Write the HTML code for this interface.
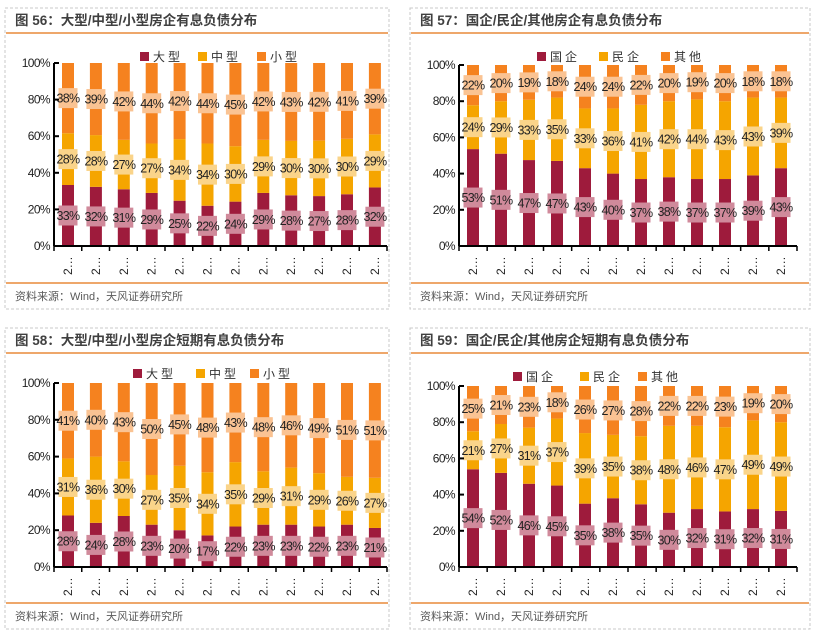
<!DOCTYPE html>
<html><head><meta charset="utf-8">
<style>
body{margin:0;background:#fff;width:815px;height:633px;overflow:hidden;font-family:"Liberation Sans","Noto Sans CJK SC",sans-serif}
svg{position:absolute;left:0;top:0}
</style></head>
<body>
<svg id="c" width="815" height="633" xmlns="http://www.w3.org/2000/svg"></svg>
<script>
const p56Big=[33,32,31,29,25,22,24,29,28,27,28,32];
const p56Mid=[28,28,27,27,34,34,30,29,30,30,30,29];
const p56Small=[38,39,42,44,42,44,45,42,43,42,41,39];
const p57Soe=[53,51,47,47,43,40,37,38,37,37,39,43];
const p57Private=[24,29,33,35,33,36,41,42,44,43,43,39];
const p57Other=[22,20,19,18,24,24,22,20,19,20,18,18];
const p58Big=[28,24,28,23,20,17,22,23,23,22,23,21];
const p58Mid=[31,36,30,27,35,34,35,29,31,29,26,27];
const p58Small=[41,40,43,50,45,48,43,48,46,49,51,51];
const p59Soe=[54,52,46,45,35,38,35,30,32,31,32,31];
const p59Private=[21,27,31,37,39,35,38,48,46,47,49,49];
const p59Other=[25,21,23,18,26,27,28,22,22,23,19,20];
const yTicks=["0%","20%","40%","60%","80%","100%"];
const sizeNames=["大型","中型","小型"];
const ownNames=["国企","民企","其他"];

const colors=["#9E1B3C","#F5A500","#F5821F"];
const tints=["#D08A9B","#FAD48A","#FAC393"];
const svg=document.getElementById('c');
const NS="http://www.w3.org/2000/svg";
function mk(tag,attrs,parent,text){const e=document.createElementNS(NS,tag);for(const k in attrs)e.setAttribute(k,attrs[k]);if(text!==undefined)e.textContent=text;(parent||svg).appendChild(e);return e;}

function panel(cfg){
  const g=mk('g',{});
  
  
  const fr=mk('rect',{x:cfg.bx,y:cfg.by,width:cfg.bw,height:cfg.bh,fill:'none',stroke:'#c8c8c8','stroke-dasharray':'3,2'},g);
  
  const t=mk('text',{x:cfg.bx+10,y:cfg.by+17,'font-size':'13.5','font-weight':'bold',fill:'#404040'},g,cfg.title);
  
  mk('line',{x1:cfg.bx+1,x2:cfg.bx+cfg.bw-1,y1:cfg.by+25,y2:cfg.by+25,stroke:'#E98A3A','stroke-width':1.5},g);
  mk('line',{x1:cfg.bx+1,x2:cfg.bx+cfg.bw-1,y1:cfg.by+cfg.bh-26,y2:cfg.by+cfg.bh-26,stroke:'#E98A3A','stroke-width':1.5},g);
  const s=mk('text',{x:cfg.bx+10,y:cfg.by+cfg.bh-9,'font-size':'11',fill:'#595959'},g,'资料来源：Wind，天风证券研究所');
  
  const y=v=>cfg.y0-(cfg.y0-cfg.y100)*v/100;
  const x=i=>cfg.x0+cfg.step*i;
  cfg.names.forEach((n,i)=>{
    const lx=cfg.lx[i];
    const le=mk('g',{},g);
    
    mk('rect',{x:lx,y:cfg.ly-5,width:9,height:9,fill:colors[i]},le);
    mk('text',{x:lx+13,y:cfg.ly+4,'font-size':'12',fill:'#333','letter-spacing':'3'},le,n);
  });
  const n=cfg.series[0].length;
  for(let i=0;i<n;i++){
    const tot=cfg.series.reduce((a,s)=>a+s[i],0);
    let acc=0;
    cfg.series.forEach((ser,k)=>{
      const v=ser[i]/tot*100;
      const yt=y(acc+v),yb=y(acc);
      const r=mk('rect',{x:x(i)-6,y:yt,width:12,height:yb-yt,fill:colors[k]},g);
      
      const cy=(yt+yb)/2;
      mk('rect',{x:x(i)-9.5,y:cy-10,width:19,height:20,fill:tints[k]},g);
      const lb=mk('text',{x:x(i),y:cy+4.5,'font-size':'12.5','text-anchor':'middle',fill:'#222','letter-spacing':'-0.7'},g,ser[i]+'%');
      
      acc+=v;
    });
    const xl=mk('text',{x:0,y:0,'font-size':'12',fill:'#222',transform:`translate(${x(i)+4},${cfg.y0+29}) rotate(-90)`},g,'2…');
    
  }
  const ya=mk('line',{x1:cfg.ax,x2:cfg.ax,y1:cfg.y100,y2:cfg.y0,stroke:'#000','stroke-width':2},g);
  
  yTicks.forEach((tk,j)=>{
    const yy=y(j*20);
    mk('line',{x1:cfg.ax,x2:cfg.ax+5,y1:yy,y2:yy,stroke:'#000','stroke-width':2},g);
    const tl=mk('text',{x:cfg.ax-4,y:yy+4,'font-size':'12','text-anchor':'end',fill:'#222','letter-spacing':'-0.6'},g,tk);
    
  });
  const xa=mk('line',{x1:cfg.ax,x2:cfg.axEnd,y1:cfg.y0,y2:cfg.y0,stroke:'#000','stroke-width':2},g);
  
  for(let i=0;i<=n;i++){const xx=cfg.ax+(cfg.axEnd-cfg.ax)*i/n;mk('line',{x1:xx,x2:xx,y1:cfg.y0,y2:cfg.y0+5,stroke:'#000','stroke-width':1.5},g);}
}
panel({name:'panel-fig56',title:'图 56：大型/中型/小型房企有息负债分布',bx:5,by:8,bw:384,bh:301,ax:54,axEnd:387,x0:68,step:27.9,y0:246,y100:63,lx:[140,198,257],ly:57,names:sizeNames,series:[p56Big,p56Mid,p56Small]});
panel({name:'panel-fig57',title:'图 57：国企/民企/其他房企有息负债分布',bx:410,by:8,bw:400,bh:301,ax:459,axEnd:797,x0:473,step:28,y0:246,y100:65,lx:[537,599,661],ly:57,names:ownNames,series:[p57Soe,p57Private,p57Other]});
panel({name:'panel-fig58',title:'图 58：大型/中型/小型房企短期有息负债分布',bx:5,by:328,bw:384,bh:301,ax:54,axEnd:387,x0:68,step:27.9,y0:567,y100:383,lx:[133,196,250],ly:374,names:sizeNames,series:[p58Big,p58Mid,p58Small]});
panel({name:'panel-fig59',title:'图 59：国企/民企/其他房企短期有息负债分布',bx:410,by:328,bw:400,bh:301,ax:459,axEnd:797,x0:473,step:28,y0:567,y100:386,lx:[513,580,638],ly:377,names:ownNames,series:[p59Soe,p59Private,p59Other]});
</script>
</body></html>
